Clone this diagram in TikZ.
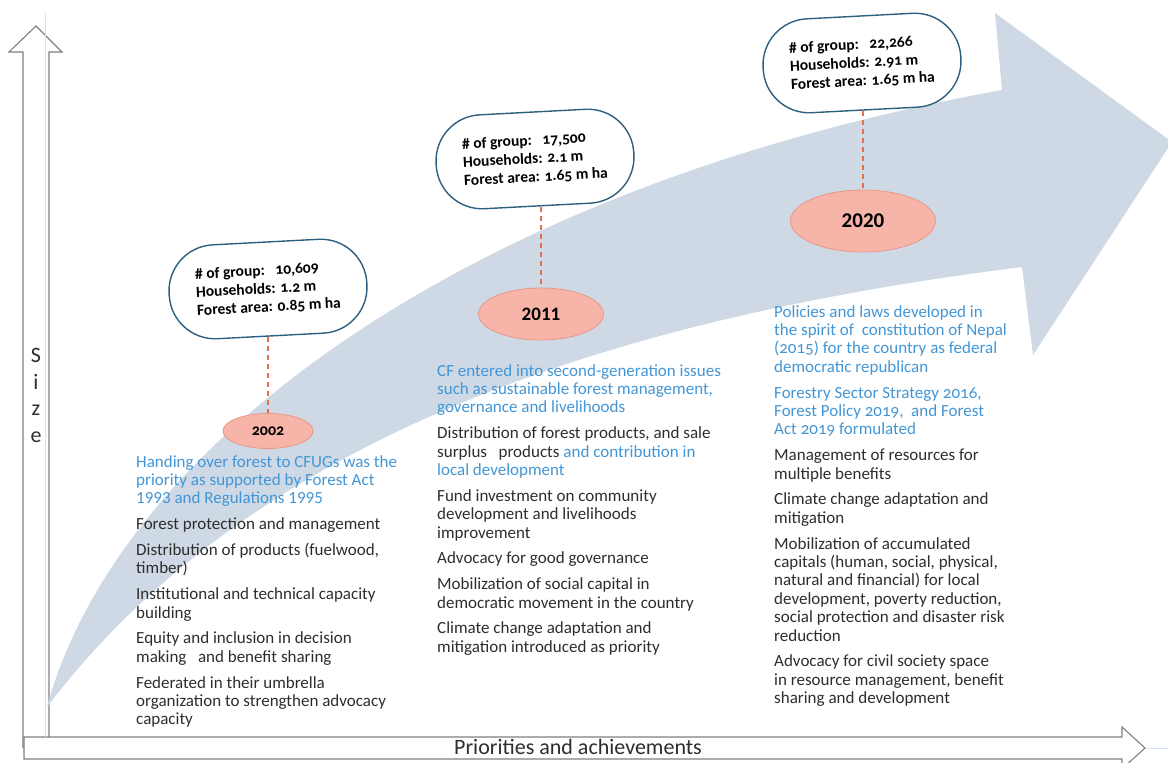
\documentclass[tikz,border=0pt]{standalone}
\usepackage{fontspec}
\setmainfont{Carlito}
\newfontfamily\oldfig{Carlito}[Numbers=OldStyle]
\usetikzlibrary{positioning,shapes}

\definecolor{bandblue}{RGB}{206,217,229}
\definecolor{textblue}{RGB}{66,150,214}
\definecolor{textgray}{RGB}{45,45,45}
\definecolor{boxline}{RGB}{45,96,126}
\definecolor{yearfill}{RGB}{247,181,170}
\definecolor{yearline}{RGB}{232,150,132}
\definecolor{dashred}{RGB}{228,110,78}
\definecolor{axisgray}{RGB}{128,128,128}
\definecolor{faintblue}{RGB}{212,228,244}

\newcommand{\hi}[1]{\textcolor{textblue}{#1}}

\begin{document}
\begin{tikzpicture}[x=1pt,y=-1pt]
\tikzstyle{every node}+=[inner sep=0pt]
\tikzstyle{stat}=[draw=boxline, line width=1.4pt, fill=white, rounded corners=46pt, minimum width=198pt, minimum height=94pt, rotate=3, align=left, font=\fontsize{15.5}{18.3}\selectfont\oldfig\bfseries]
\tikzstyle{year}=[ellipse, draw=yearline, line width=0.8pt, fill=yearfill]
\tikzstyle{link}=[dashred, line width=1.4pt, dash pattern=on 5pt off 4pt]
\tikzstyle{notes}=[anchor=north west, align=left, text=textgray, font=\fontsize{17}{18.4}\selectfont]
\tikzstyle{axis}=[draw=axisgray, line width=1.1pt, fill=white]
\useasboundingbox (0,0) rectangle (1168,763);

% axes
\draw [axis] (23,748) -- (23,52) -- (9,52) -- (36,26) -- (62,52) -- (49,52) -- (49,737);
\draw [axis] (24,737) -- (1122,737) -- (1122,727) -- (1145,748) -- (1122,769) -- (1122,759) -- (24,759) -- cycle;
\draw [faintblue, line width=0.8pt] (45,13) -- (45,737);
\draw [faintblue, line width=0.8pt] (1146,748) -- (1168,748);

% the growth arrow
\fill [bandblue] (47,707) .. controls (115,455) and (450,190) .. (1002,90) -- (995,13) -- (1172,142) -- (1033,355) -- (1022,267) .. controls (600,320) and (250,440) .. (47,707) -- cycle;

\node [text=textgray, anchor=north, align=center, font=\fontsize{22}{26.7}\selectfont] (size) at (36,348) {S\\i\\z\\e};
\node [text=textgray, anchor=base, font=\fontsize{22}{26}\selectfont] (xlabel) at (578,754) {Priorities and achievements};

% stats
\node [stat] (box2002) at (268,289) {\# of group:\ \ \ 10,609\\Households: 1.2 m\\Forest area: 0.85 m ha};
\node [stat] (box2011) at (535,159) {\# of group:\ \ \ 17,500\\Households: 2.1 m\\Forest area: 1.65 m ha};
\node [stat] (box2020) at (862,63) {\# of group:\ \ \ 22,266\\Households: 2.91 m\\Forest area: 1.65 m ha};

% years
\node [year, minimum width=90pt, minimum height=35pt, font=\fontsize{16}{16}\selectfont\oldfig\bfseries] (yr2002) at (268,431) {2002};
\node [year, minimum width=125pt, minimum height=52pt, font=\fontsize{19}{19}\selectfont\bfseries] (yr2011) at (541,314) {2011};
\node [year, minimum width=145pt, minimum height=62pt, font=\fontsize{21}{21}\selectfont\bfseries] (yr2020) at (863,221) {2020};

\draw [link] (yr2002.north |- box2002.south) -- (yr2002.north);
\draw [link] (yr2011.north |- box2011.south) -- (yr2011.north);
\draw [link] (yr2020.north |- box2020.south) -- (yr2020.north);

% notes
\node [notes] (txt2002) at (136,454) {\strut\hi{Handing over forest to CFUGs was the}\\\hi{priority as supported by Forest Act}\\\hi{1993 and Regulations 1995}\\[7.4pt]
Forest protection and management\\[7.4pt]
Distribution of products (fuelwood,\\timber)\\[7.4pt]
Institutional and technical capacity\\building\\[7.4pt]
Equity and inclusion in decision\\making\ \ \ and benefit sharing\\[7.4pt]
Federated in their umbrella\\organization to strengthen advocacy\\capacity};

\node [notes] (txt2011) at (437,363) {\strut\hi{CF entered into second-generation issues}\\\hi{such as sustainable forest management,}\\\hi{governance and livelihoods}\\[7.4pt]
Distribution of forest products, and sale\\surplus\ \ \ products \hi{and contribution in}\\\hi{local development}\\[7.4pt]
Fund investment on community\\development and livelihoods\\improvement\\[7.4pt]
Advocacy for good governance\\[7.4pt]
Mobilization of social capital in\\democratic movement in the country\\[7.4pt]
Climate change adaptation and\\mitigation introduced as priority};

\node [notes, font=\fontsize{17}{18.4}\selectfont\oldfig] (txt2020) at (774,304) {\strut\hi{Policies and laws developed in}\\\hi{the spirit of\ \ constitution of Nepal}\\\hi{(2015) for the country as federal}\\\hi{democratic republican}\\[7.4pt]
\hi{Forestry Sector Strategy 2016,}\\\hi{Forest Policy 2019,\ \ and Forest}\\\hi{Act 2019 formulated}\\[7.4pt]
Management of resources for\\multiple benefits\\[7.4pt]
Climate change adaptation and\\mitigation\\[7.4pt]
Mobilization of accumulated\\capitals (human, social, physical,\\natural and financial) for local\\development, poverty reduction,\\social protection and disaster risk\\reduction\\[7.4pt]
Advocacy for civil society space\\in resource management, benefit\\sharing and development};
\end{tikzpicture}
\end{document}
